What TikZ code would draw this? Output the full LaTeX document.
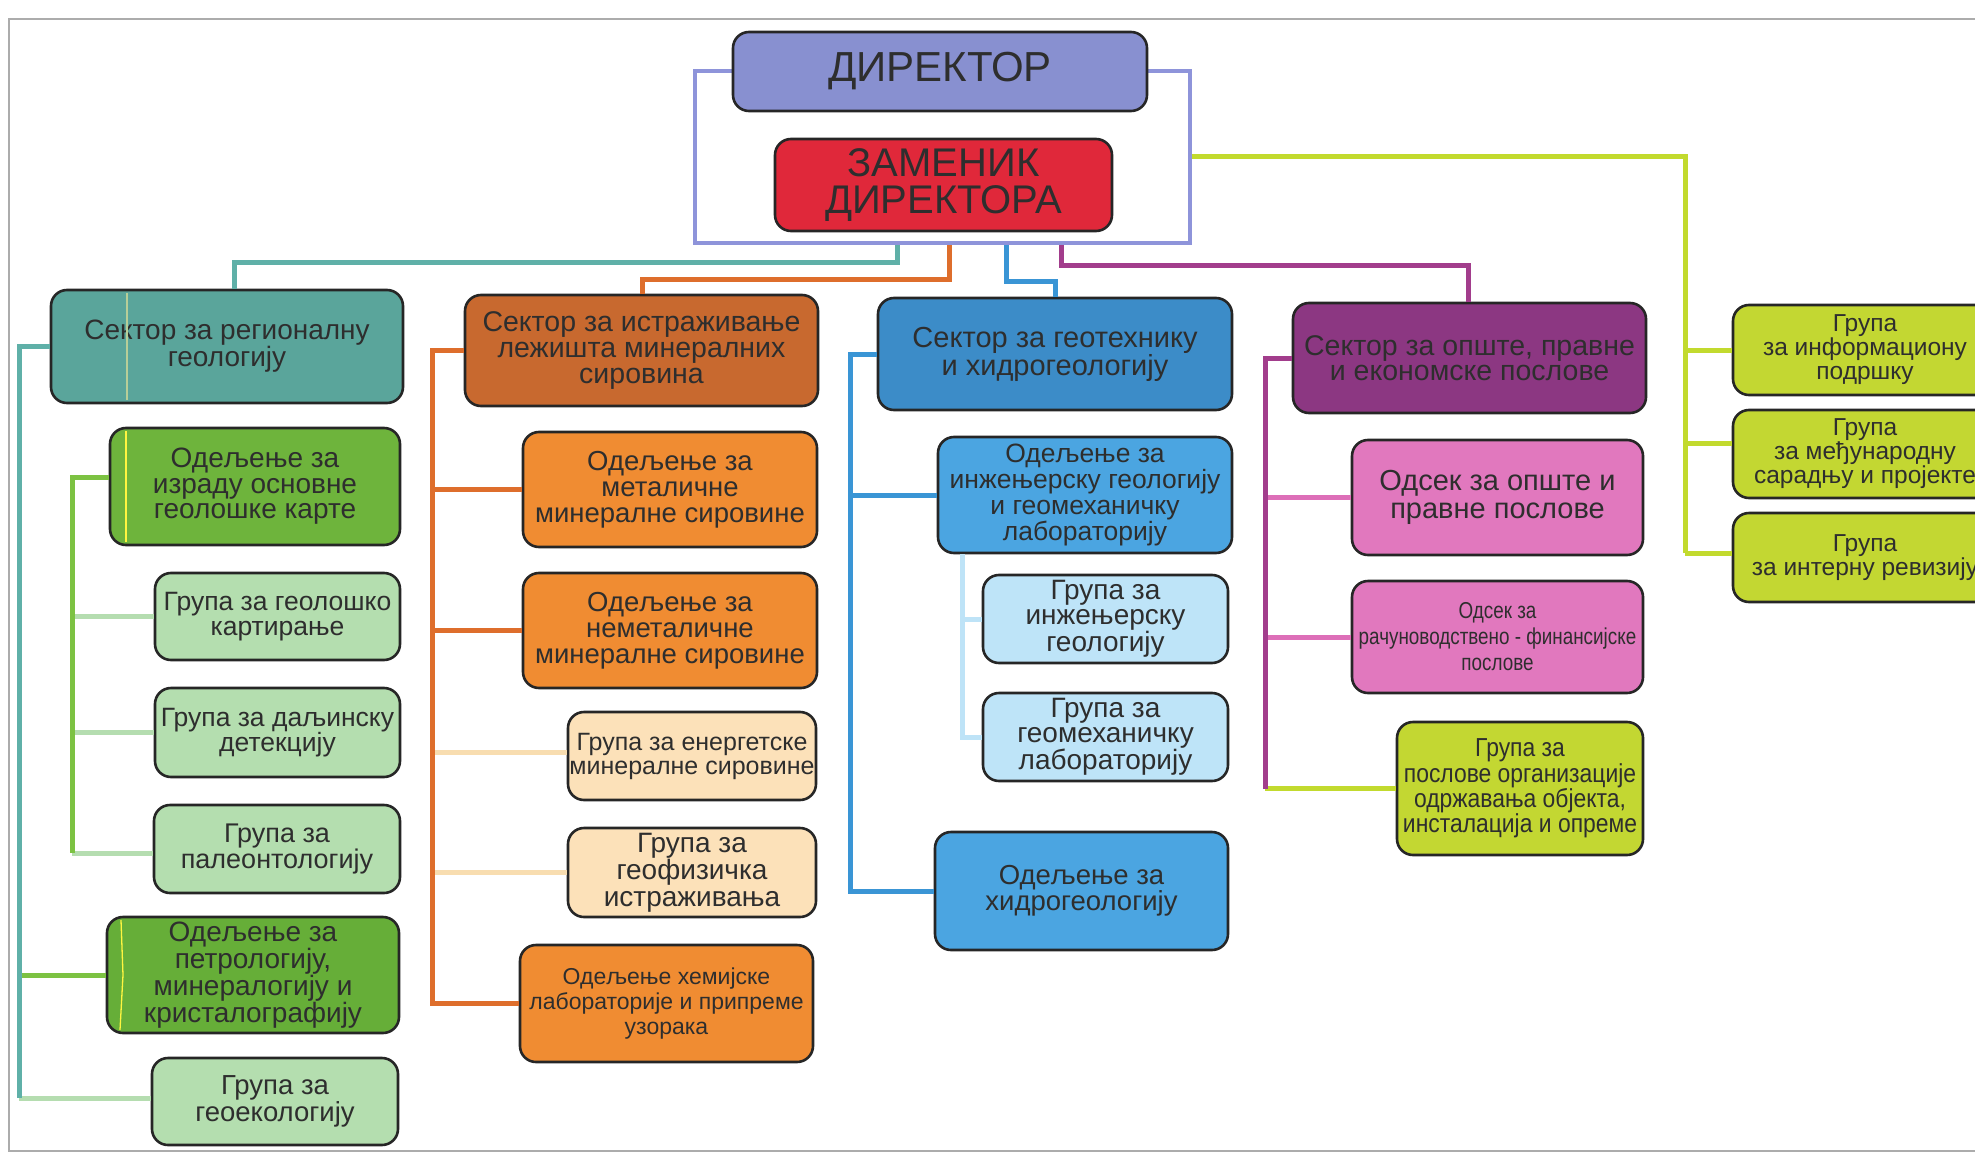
\documentclass[tikz,border=0pt]{standalone}
\usepackage{fontspec}
\setmainfont{Liberation Sans}
\newfontfamily\narrowfont[FakeStretch=0.82]{Liberation Sans}
\newfontfamily\semifont[FakeStretch=0.88]{Liberation Sans}
\newcommand\fsz[2]{\fontsize{#1}{#2}\selectfont}
\definecolor{txt}{HTML}{2E2E2E}
\definecolor{lav}{HTML}{8E94DA}
\definecolor{dirc}{HTML}{8890D0}
\definecolor{zamc}{HTML}{E0283A}
\definecolor{s1c}{HTML}{5AA59B}
\definecolor{d1c}{HTML}{6EB43C}
\definecolor{d1bc}{HTML}{66AE38}
\definecolor{g1c}{HTML}{B4DEAF}
\definecolor{s2c}{HTML}{C8692F}
\definecolor{d2c}{HTML}{F08C32}
\definecolor{g2c}{HTML}{FCE1B9}
\definecolor{s3c}{HTML}{3C8CC8}
\definecolor{d3c}{HTML}{4BA5E1}
\definecolor{g3c}{HTML}{BEE4F8}
\definecolor{s4c}{HTML}{8C3782}
\definecolor{d4c}{HTML}{E178BE}
\definecolor{limec}{HTML}{C3D732}
\definecolor{tealL}{HTML}{5FB0A8}
\definecolor{greenL}{HTML}{7CC242}
\definecolor{lgreenL}{HTML}{B5DDB0}
\definecolor{orangeL}{HTML}{DE6E2C}
\definecolor{peachL}{HTML}{F8DDB0}
\definecolor{blueL}{HTML}{3A95D5}
\definecolor{lblueL}{HTML}{BEE3F7}
\definecolor{purpL}{HTML}{A23D8C}
\definecolor{pinkL}{HTML}{DD6FB8}
\definecolor{limeL}{HTML}{C2DA2E}
\definecolor{faintY}{HTML}{B8CE98}
\tikzset{
  orgbox/.style={draw=black!85, line width=2.6pt, rounded corners=16pt, align=center, inner sep=0pt, text=txt},
  ln/.style={line width=5pt},
  artif/.style={line width=1.3pt, yellow!75!white}
}
\begin{document}
\begin{tikzpicture}[x=1pt,y=-1pt]
\useasboundingbox (0,0) rectangle (1975,1161);
\fill[white] (0,0) rectangle (1975,1161);
\draw[gray!65, line width=1.6pt] (1975,19) -- (9,19) -- (9,1151) -- (1975,1151);

% top frame
\node[draw=lav, line width=4.5pt, minimum width=495pt, minimum height=172pt, inner sep=0pt] (frame) at (942.5,157) {};
\node[orgbox, fill=dirc, minimum width=414pt, minimum height=79pt, font=\fsz{42}{40}] (dir) at (940,71.5) {ДИРЕКТОР};
\node[orgbox, fill=zamc, minimum width=337pt, minimum height=92pt, font=\fsz{40}{37.5}] (zam) at (943.5,185) {ЗАМЕНИК\\ДИРЕКТОРА};

% column 1
\node[orgbox, fill=s1c, minimum width=352pt, minimum height=113pt, font=\fsz{28}{25}] (S1) at (227,346.5) {Сектор за регионалну\\геологију};
\node[orgbox, fill=d1c, minimum width=290pt, minimum height=117pt, font=\fsz{28}{25.5}] (D1a) at (255,486.5) {Одељење за\\израду основне\\геолошке карте};
\node[orgbox, fill=g1c, minimum width=245pt, minimum height=87pt, font=\fsz{26.5}{25}] (G1) at (277.5,616.5) {Група за геолошко\\картирање};
\node[orgbox, fill=g1c, minimum width=245pt, minimum height=89pt, font=\fsz{26.5}{25}] (G2) at (277.5,732.5) {Група за даљинску\\детекцију};
\node[orgbox, fill=g1c, minimum width=246pt, minimum height=88pt, font=\fsz{27}{25}] (G3) at (277,849) {Група за\\палеонтологију};
\node[orgbox, fill=d1bc, minimum width=292pt, minimum height=116pt, font=\fsz{28}{24.5}] (D1b) at (253,975) {Одељење за\\петрологију,\\минералогију и\\кристалографију};
\node[orgbox, fill=g1c, minimum width=246pt, minimum height=87pt, font=\fsz{27.5}{25}] (G4) at (275,1101.5) {Група за\\геоекологију};

% column 2
\node[orgbox, fill=s2c, minimum width=353pt, minimum height=111pt, font=\fsz{28.5}{26}] (S2) at (641.5,350.5) {Сектор за истраживање\\лежишта минералних\\сировина};
\node[orgbox, fill=d2c, minimum width=294pt, minimum height=115pt, font=\fsz{27.5}{26}] (D2a) at (670,489.5) {Одељење за\\металичне\\минералне сировине};
\node[orgbox, fill=d2c, minimum width=294pt, minimum height=115pt, font=\fsz{27.5}{26}] (D2b) at (670,630.5) {Одељење за\\неметаличне\\минералне сировине};
\node[orgbox, fill=g2c, minimum width=248pt, minimum height=88pt, font=\fsz{25}{24}] (G2a) at (692,756) {Група за енергетске\\минералне сировине};
\node[orgbox, fill=g2c, minimum width=248pt, minimum height=89pt, font=\fsz{28}{27}] (G2b) at (692,872.5) {Група за\\геофизичка\\истраживања};
\node[orgbox, fill=d2c, minimum width=293pt, minimum height=117pt, font=\fsz{23}{25}] (D2c) at (666.5,1003.5) {Одељење хемијске\\лабораторије и припреме\\узорака};

% column 3
\node[orgbox, fill=s3c, minimum width=354pt, minimum height=112pt, font=\fsz{29}{26}] (S3) at (1055,354) {Сектор за геотехнику\\и хидрогеологију};
\node[orgbox, fill=d3c, minimum width=294pt, minimum height=116pt, font=\fsz{26.5}{26}] (D3a) at (1085,495) {Одељење за\\инжењерску геологију\\и геомеханичку\\лабораторију};
\node[orgbox, fill=g3c, minimum width=245pt, minimum height=88pt, font=\fsz{28}{25}] (G3a) at (1105.5,619) {Група за\\инжењерску\\геологију};
\node[orgbox, fill=g3c, minimum width=245pt, minimum height=88pt, font=\fsz{28}{25}] (G3b) at (1105.5,737) {Група за\\геомеханичку\\лабораторију};
\node[orgbox, fill=d3c, minimum width=293pt, minimum height=118pt, font=\fsz{27.5}{25}] (D3b) at (1081.5,891) {Одељење за\\хидрогеологију};

% column 4
\node[orgbox, fill=s4c, minimum width=353pt, minimum height=110pt, font=\fsz{28.5}{25}] (S4) at (1469.5,358) {Сектор за опште, правне\\и економске послове};
\node[orgbox, fill=d4c, minimum width=291pt, minimum height=115pt, font=\fsz{29}{27.5}] (D4a) at (1497.5,497.5) {Одсек за опште и\\правне послове};
\node[orgbox, fill=d4c, minimum width=291pt, minimum height=112pt, font=\narrowfont\fsz{23}{26}] (D4b) at (1497.5,637) {Одсек за\\рачуноводствено - финансијске\\послове};
\node[orgbox, fill=limec, minimum width=246pt, minimum height=133pt, font=\semifont\fsz{26}{24}] (G4a) at (1520,788.5) {Група за\\послове организације\\одржавања објекта,\\инсталација и опреме};

% column 5
\node[orgbox, fill=limec, minimum width=264pt, minimum height=90pt, font=\fsz{24.5}{24}] (G5a) at (1865,350) {Група\\за информациону\\подршку};
\node[orgbox, fill=limec, minimum width=264pt, minimum height=88pt, font=\fsz{24.5}{24}] (G5b) at (1865,454) {Група\\за међународну\\сарадњу и пројекте};
\node[orgbox, fill=limec, minimum width=264pt, minimum height=89pt, font=\fsz{24.5}{24}] (G5c) at (1865,557.5) {Група\\за интерну ревизију};

% scan highlights
\draw[artif, faintY] (127,293) -- (127,400);
\draw[artif] (126,431) -- (126,542);
\draw[artif] (121,920) -- (123,975) -- (120,1030);

% connectors from top frame
\coordinate (tA) at (897,262); \coordinate (tB) at (234,262);
\draw[ln, tealL] (frame.south -| tA) -- (tA) -- (tB) -- (tB |- S1.north);
\coordinate (oA) at (949,279); \coordinate (oB) at (642,279);
\draw[ln, orangeL] (frame.south -| oA) -- (oA) -- (oB) -- (oB |- S2.north);
\coordinate (bA) at (1006,281); \coordinate (bB) at (1055,281);
\draw[ln, blueL] (frame.south -| bA) -- (bA) -- (bB) -- (bB |- S3.north);
\coordinate (pA) at (1061,265); \coordinate (pB) at (1468,265);
\draw[ln, purpL] (frame.south -| pA) -- (pA) -- (pB) -- (pB |- S4.north);
\coordinate (lA) at (1685,157);
\draw[ln, limeL] (frame.east) -- (lA) -- (lA |- 0,553);
\draw[ln, limeL] (lA |- G5a.west) -- (G5a.west);
\draw[ln, limeL] (lA |- 0,443) -- (G5b.west |- 0,443);
\draw[ln, limeL] (lA |- 0,553) -- (G5c.west |- 0,553);

% column 1 connectors
\coordinate (t1) at (19,0);
\draw[ln, greenL] (t1 |- D1b.west) -- (D1b.west);
\draw[ln, lgreenL] (t1 |- 0,1098) -- (G4.west |- 0,1098);
\draw[ln, tealL] (S1.west) -- (S1.west -| t1) -- (t1 |- 0,1098);
\coordinate (g1) at (72,477);
\draw[ln, lgreenL] (g1 |- G1.west) -- (G1.west);
\draw[ln, lgreenL] (g1 |- G2.west) -- (G2.west);
\draw[ln, lgreenL] (g1 |- 0,853) -- (G3.west |- 0,853);
\draw[ln, greenL] (D1a.west |- g1) -- (g1) -- (g1 |- 0,853);

% column 2 connectors
\coordinate (o1) at (432,0);
\draw[ln, orangeL] (o1 |- D2a.west) -- (D2a.west);
\draw[ln, orangeL] (o1 |- D2b.west) -- (D2b.west);
\draw[ln, peachL] (o1 |- 0,752) -- (G2a.west |- 0,752);
\draw[ln, peachL] (o1 |- G2b.west) -- (G2b.west);
\draw[ln, orangeL] (S2.west) -- (S2.west -| o1) -- (o1 |- D2c.west) -- (D2c.west);

% column 3 connectors
\coordinate (b1) at (850,0);
\draw[ln, blueL] (b1 |- D3a.west) -- (D3a.west);
\draw[ln, blueL] (S3.west) -- (S3.west -| b1) -- (b1 |- D3b.west) -- (D3b.west);
\coordinate (lb) at (962,0);
\draw[ln, lblueL] (lb |- G3a.west) -- (G3a.west);
\draw[ln, lblueL] (D3a.south -| lb) -- (lb |- G3b.west) -- (G3b.west);

% column 4 connectors
\coordinate (p1) at (1265,0);
\draw[ln, pinkL] (p1 |- D4a.west) -- (D4a.west);
\draw[ln, pinkL] (p1 |- D4b.west) -- (D4b.west);
\draw[ln, limeL] (p1 |- G4a.west) -- (G4a.west);
\draw[ln, purpL] (S4.west) -- (S4.west -| p1) -- (p1 |- G4a.west);
\end{tikzpicture}
\end{document}
